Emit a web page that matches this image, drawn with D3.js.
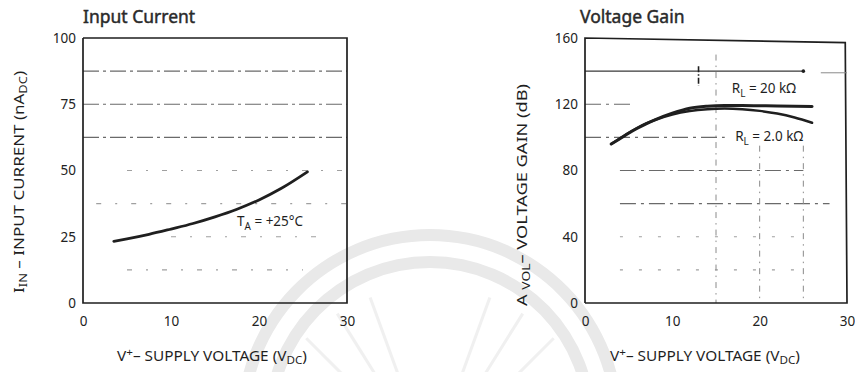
<!DOCTYPE html>
<html>
<head>
<meta charset="utf-8">
<script src="https://cdn.jsdelivr.net/npm/d3@7"></script>
<style>
  body { margin: 0; background: #fff; }
  svg { display: block; }
  .tick text { font-family: "Noto Sans", sans-serif; font-size: 13.5px; fill: #222; }
</style>
</head>
<body>
<svg id="chart" width="855" height="372"></svg>
<script>
// Input current (nA DC) versus supply voltage (V DC), TA = +25°C
const currentVolts = [3.5, 5, 7.5, 10, 12.5, 15, 17.5, 20, 22.5, 25.5];
const currentNA    = [23.3, 24.2, 25.9, 27.9, 30.0, 32.5, 35.4, 38.9, 43.2, 49.5];

// Open-loop voltage gain (dB) versus supply voltage for two load resistances
const gainVolts = [3, 4, 5, 6, 7, 8, 10, 12, 14, 16, 18, 20, 22, 24, 26];
const gain20k   = [96, 99.2, 102.5, 105.5, 108.2, 110.6, 114.6, 117.6, 118.8, 119.2, 119.2, 119.1, 119.0, 118.8, 118.6];
const gain2k    = [96, 99.4, 102.8, 105.8, 108.4, 110.5, 113.8, 115.9, 117.0, 117.4, 117.0, 116.0, 114.4, 112.0, 108.8];

// Axis ticks
const xTicks       = [0, 10, 20, 30];
const currentTicks = [0, 25, 50, 75, 100];
const gainTicks    = [0, 40, 80, 120, 160];

// Chart-paper grid rulings (value, start volts, end volts)
const currentGridLevels = [87.5, 75, 62.5, 50, 37.5, 25, 12.5];
const currentGridFrom   = [0, 0, 0, 5, 1.5, 10, 5];
const currentGridTo     = [30, 30, 30, 30, 30, 28, 25];
const gainGridLevels    = [140, 120, 100, 80, 60, 40, 20];
const gainGridFrom      = [0, 0, 0, 4, 4, 4, 4];
const gainGridTo        = [25, 5.5, 16, 25, 28, 25, 25];
const gainGridVolts     = [15, 20, 25];
const gainGridTop       = [150, 95, 95];

const svg = d3.select("#chart");
const labelFont = '"Noto Sans", sans-serif';
const ink = "#1f1f1f";

// faint seal printed behind the page
const seal = svg.append("g");
[187, 160].forEach(r => {
  seal.append("path")
    .attr("d", d3.arc().innerRadius(r - 6).outerRadius(r + 6).startAngle(-1.6).endAngle(1.6)())
    .attr("transform", "translate(430,422)")
    .attr("fill", "#e9e9e9");
});
[-135, -122, -110, -70, -58, -45].forEach(a => {
  const t = a * Math.PI / 180;
  seal.append("line")
    .attr("x1", 430 + 95 * Math.cos(t)).attr("y1", 462 + 95 * Math.sin(t))
    .attr("x2", 430 + 175 * Math.cos(t)).attr("y2", 462 + 175 * Math.sin(t))
    .attr("stroke", "#f0f0f0").attr("stroke-width", 3);
});

function panel(opts) {
  const g = svg.append("g");
  const x = d3.scaleLinear().domain([0, 30]).range(opts.xRange);
  const y = d3.scaleLinear().domain([0, opts.yMax]).range([303, 38]);

  // grid rulings
  opts.gridLevels.forEach((v, i) => {
    g.append("line")
      .attr("x1", x(opts.gridFrom[i])).attr("x2", x(opts.gridTo[i]))
      .attr("y1", y(v)).attr("y2", y(v))
      .attr("stroke", opts.gridColor(i)).attr("stroke-width", 1.1)
      .attr("stroke-dasharray", opts.gridDash(i));
  });
  if (opts.gridVolts) {
    opts.gridVolts.forEach((v, i) => {
      g.append("line")
        .attr("x1", x(v)).attr("x2", x(v))
        .attr("y1", y(opts.gridTop[i])).attr("y2", y(0))
        .attr("stroke", "#8a8a8a").attr("stroke-width", 1)
        .attr("stroke-dasharray", "6,5,1.5,5");
    });
  }

  // frame
  g.append("path")
    .attr("d", d3.line().x(d => x(d[0])).y(d => y(d[1]))(opts.frame))
    .attr("fill", "none").attr("stroke", ink).attr("stroke-width", 1.7);

  // axes (labels only)
  g.append("g").attr("transform", "translate(0,303)")
    .call(d3.axisBottom(x).tickValues(xTicks).tickSize(0).tickPadding(13))
    .call(a => a.select(".domain").remove());
  g.append("g").attr("transform", `translate(${opts.xRange[0]},0)`)
    .call(d3.axisLeft(y).tickValues(opts.yTicks).tickSize(0).tickPadding(7))
    .call(a => a.select(".domain").remove());

  // title
  g.append("text").attr("x", opts.titleX).attr("y", 23)
    .attr("font-family", '"Noto Sans", sans-serif').attr("font-size", 17.5)
    .attr("font-weight", 400).attr("fill", "#2a2a2a")
    .attr("stroke", "#2a2a2a").attr("stroke-width", 0.45).text(opts.title);

  // x-axis title
  const xt = g.append("text").attr("x", opts.xLabelX).attr("y", 361)
    .attr("text-anchor", "middle").attr("font-family", labelFont)
    .attr("font-size", 14.5).attr("fill", ink)
    .attr("textLength", 190).attr("lengthAdjust", "spacingAndGlyphs");
  xt.append("tspan").text("V");
  xt.append("tspan").attr("dy", -5).attr("font-size", 11).text("+");
  xt.append("tspan").attr("dy", 5).text("\u2013 SUPPLY VOLTAGE (V");
  xt.append("tspan").attr("dy", 3).attr("font-size", 11).text("DC");
  xt.append("tspan").attr("dy", -3).text(")");

  // y-axis title
  const yt = g.append("text")
    .attr("transform", `translate(${opts.yLabelX},${opts.yLabelY}) rotate(-90)`)
    .attr("text-anchor", "middle").attr("font-family", labelFont)
    .attr("font-size", 14.5).attr("fill", ink)
    .attr("textLength", 222).attr("lengthAdjust", "spacingAndGlyphs");
  opts.yLabel(yt);

  return { g, x, y };
}

const left = panel({
  xRange: [83, 347], yMax: 100, yTicks: currentTicks,
  gridLevels: currentGridLevels, gridFrom: currentGridFrom, gridTo: currentGridTo,
  gridColor: i => (i < 3 ? "#6a6a6a" : "#a0a0a0"),
  gridDash: i => (i < 3 ? "16,4,3,4" : "5,14,2,14"),
  frame: [[0, 100], [30, 100], [30, 0], [0, 0], [0, 100]],
  title: "Input Current", titleX: 83,
  xLabelX: 212,
  yLabelX: 24, yLabelY: 182,
  yLabel: t => {
    t.append("tspan").text("I");
    t.append("tspan").attr("dy", 3).attr("font-size", 11).text("IN");
    t.append("tspan").attr("dy", -3).text(" \u2013 INPUT CURRENT (nA");
    t.append("tspan").attr("dy", 3).attr("font-size", 11).text("DC");
    t.append("tspan").attr("dy", -3).text(")");
  }
});

const right = panel({
  xRange: [585, 847], yMax: 160, yTicks: gainTicks,
  gridLevels: gainGridLevels, gridFrom: gainGridFrom, gridTo: gainGridTo,
  gridColor: i => (i === 0 ? "#3a3a3a" : i < 5 ? "#6a6a6a" : "#a0a0a0"),
  gridDash: i => (i === 0 ? "60,0" : i < 5 ? "16,5,3,5" : "3,16,3,16"),
  gridVolts: gainGridVolts, gridTop: gainGridTop,
  frame: [[0, 0], [0, 160], [29.8, 157.2], [30, 0], [0, 0]],
  title: "Voltage Gain", titleX: 580,
  xLabelX: 705,
  yLabelX: 527, yLabelY: 195,
  yLabel: t => {
    t.append("tspan").text("A ");
    t.append("tspan").attr("dy", 3).attr("font-size", 11).text("VOL");
    t.append("tspan").attr("dy", -3).text("\u2013 VOLTAGE GAIN (dB)");
  }
});

// marks on the 140 dB ruling
right.g.append("line")
  .attr("x1", right.x(27)).attr("x2", right.x(30))
  .attr("y1", right.y(139)).attr("y2", right.y(139))
  .attr("stroke", "#8a8a8a").attr("stroke-width", 1);
right.g.append("circle").attr("cx", right.x(25)).attr("cy", right.y(140)).attr("r", 1.8).attr("fill", ink);
right.g.append("line")
  .attr("x1", right.x(13)).attr("x2", right.x(13))
  .attr("y1", right.y(143)).attr("y2", right.y(131))
  .attr("stroke", ink).attr("stroke-width", 1.6).attr("stroke-dasharray", "6,2,1.5,2");

// data curves
const curve = (sc, xs, ys) => d3.line().curve(d3.curveMonotoneX)
  .x((d, i) => sc.x(xs[i])).y(d => sc.y(d))(ys);

left.g.append("path").attr("d", curve(left, currentVolts, currentNA))
  .attr("fill", "none").attr("stroke", ink).attr("stroke-width", 2.8).attr("stroke-linecap", "round");
right.g.append("path").attr("d", curve(right, gainVolts, gain20k))
  .attr("fill", "none").attr("stroke", ink).attr("stroke-width", 3).attr("stroke-linecap", "round");
right.g.append("path").attr("d", curve(right, gainVolts, gain2k))
  .attr("fill", "none").attr("stroke", ink).attr("stroke-width", 2.5).attr("stroke-linecap", "round");

// curve annotations
function label(sc, vx, vy, main, sub, rest) {
  const t = sc.g.append("text").attr("x", sc.x(vx)).attr("y", sc.y(vy))
    .attr("font-family", labelFont).attr("font-size", 13.5).attr("fill", ink);
  t.append("tspan").text(main);
  t.append("tspan").attr("dy", 4).attr("font-size", 10).text(sub);
  t.append("tspan").attr("dy", -4).text(rest);
}
label(left, 17.5, 29, "T", "A", " = +25\u00B0C");
label(right, 16.8, 127, "R", "L", " = 20 k\u03A9");
label(right, 17.2, 98, "R", "L", " = 2.0 k\u03A9");
</script>
</body>
</html>
